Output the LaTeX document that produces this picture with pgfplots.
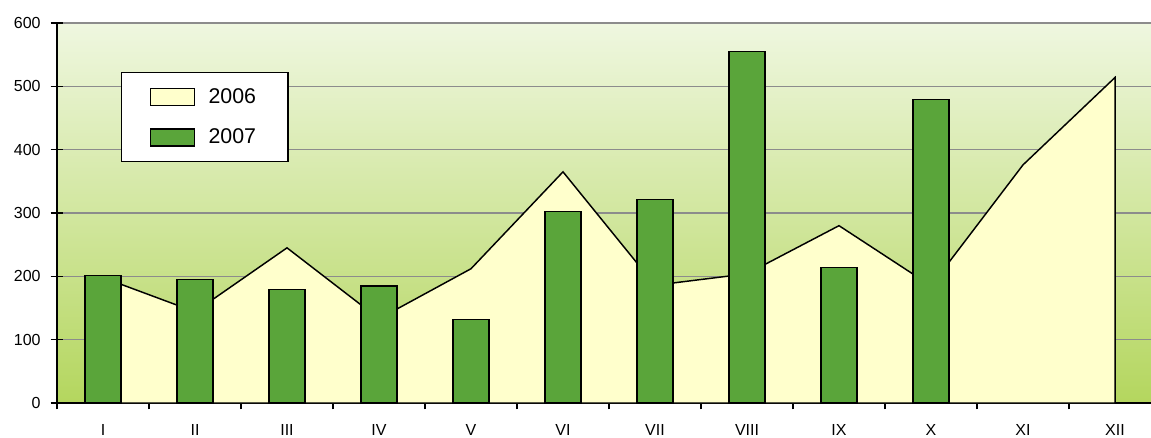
\documentclass[border=0pt]{standalone}
\usepackage{pgfplots}
\pgfplotsset{compat=1.18}
\usepackage{fontspec}
\setmainfont{Liberation Sans}
\definecolor{bgtop}{RGB}{239,247,224}
\definecolor{bgbot}{RGB}{180,214,94}
\definecolor{areafill}{RGB}{255,255,204}
\definecolor{barfill}{RGB}{90,165,58}
\definecolor{gridc}{RGB}{140,140,140}
\begin{document}
\begin{tikzpicture}
\begin{axis}[
  name=ax,
  at={(0pt,0pt)}, anchor=south west,
  width=828pt, height=285pt, scale only axis,
  xmin=-0.5, xmax=11.5,
  ymin=0, ymax=600,
  axis lines*=left,
  axis line style={black, line width=1.2pt},
  axis background/.style={top color=bgtop, bottom color=bgbot},
  ytick={0,100,...,600},
  ymajorgrids,
  major grid style={gridc, line width=1.2pt},
  xtick={0,...,11},
  xticklabels={I,II,III,IV,V,VI,VII,VIII,IX,X,XI,XII},
  minor xtick={-0.5,0.5,...,11.5},
  tick align=center,
  major tick length=9.5pt,
  minor tick length=9.5pt,
  tick style={black, line width=1.1pt},
  major x tick style={draw=none},
  minor x tick style={black, line width=1.1pt},
  xticklabel style={font=\fontsize{12}{14}\selectfont, yshift=-8pt},
  yticklabel style={font=\fontsize{12}{14}\selectfont, xshift=-4pt},
  /pgf/number format/assume math mode=true,
  clip=false,
  legend style={at={(0.058,0.871)}, anchor=north west, draw=black, line width=1.1pt,
    fill=white, font=\fontsize{16}{18}\selectfont, inner xsep=21pt, inner ysep=9pt,
    row sep=11.4pt, column sep=7pt, nodes={inner sep=3pt}},
  legend cell align=left,
  legend image code/.code={\draw[#1, line width=1.1pt] (0pt,-6.4pt) rectangle (33pt,6.4pt);},
]
\addplot[fill=areafill, draw=black, line width=1.1pt, mark=none] coordinates {
(0,198) (1,144) (2,245) (3,133) (4,212) (5,365) (6,186) (7,204) (8,280) (9,185) (10,376) (11,514)
} \closedcycle;
\addlegendentry{2006}
\addplot[ybar, bar width=0.39, bar shift=0pt, fill=barfill, draw=black, line width=1.1pt] coordinates {
(0,201) (1,195) (2,179) (3,185) (4,131.5) (5,302.5) (6,321) (7,555) (8,214) (9,479)
};
\addlegendentry{2007}
\end{axis}
\pgfresetboundingbox
\path[use as bounding box] (-42.75pt,-25.5pt) rectangle (820.5pt,302.25pt);
\end{tikzpicture}
\end{document}
